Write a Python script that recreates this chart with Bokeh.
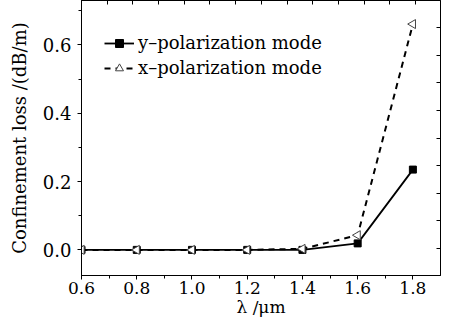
from bokeh.plotting import figure
from bokeh.models import (Range1d, LinearAxis, SingleIntervalTicker, Legend, LegendItem,
                          NumeralTickFormatter)
from bokeh.embed import file_html
from bokeh.resources import INLINE
import math

wavelength = [0.6, 0.8, 1.0, 1.2, 1.4, 1.6, 1.8]
loss_y_pol = [0.0, 0.0, 0.0, 0.0, 0.0, 0.019, 0.235]
loss_x_pol = [0.0, 0.0, 0.0, 0.0, 0.003, 0.043, 0.661]
label_y_pol = "y–polarization mode"
label_x_pol = "x–polarization mode"
x_label = "λ /μm"
y_label = "Confinement loss /(dB/m)"

FONT = "DejaVu Serif"

p = figure(width=441, height=319, x_range=Range1d(0.5999, 1.9), y_range=Range1d(-0.075, 0.73),
           output_backend="svg", toolbar_location=None,
           min_border_left=81, min_border_right=1, min_border_top=0, min_border_bottom=40)
p.xgrid.visible = False
p.ygrid.visible = False
p.outline_line_color = "black"
p.background_fill_color = "white"
p.border_fill_color = "white"

p.extra_x_ranges = {"top_r": Range1d(0, 13.97)}
p.extra_y_ranges = {"right_r": Range1d(-0.98, 8.98)}

# main axes
xa = p.xaxis[0]
xa.ticker = SingleIntervalTicker(interval=0.2, num_minor_ticks=2)
xa.formatter = NumeralTickFormatter(format="0.0")
ya = p.yaxis[0]
ya.ticker = SingleIntervalTicker(interval=0.2, num_minor_ticks=2)
ya.formatter = NumeralTickFormatter(format="0.0")
for ax in (xa, ya):
    ax.axis_line_color = "black"
    ax.major_tick_line_color = "black"
    ax.minor_tick_line_color = "black"
    ax.major_tick_in = 0
    ax.major_tick_out = 4
    ax.minor_tick_in = 0
    ax.minor_tick_out = 3
    ax.major_label_text_font = FONT
    ax.major_label_text_color = "black"
    ax.axis_label_text_font = FONT
    ax.axis_label_text_font_style = "normal"
    ax.axis_label_text_color = "black"
ya.major_label_text_font_size = "18px"
ya.axis_label_text_font_size = "18px"
xa.major_label_text_font_size = "17px"
xa.axis_label_text_font_size = "17px"
xa.major_label_standoff = 2
xa.axis_label = x_label
xa.axis_label_standoff = 0
ya.major_label_standoff = 6
ya.axis_label = y_label
ya.axis_label_standoff = 10

# mirror axes with inward ticks, no labels
for name, loc in (("top", "above"), ("right", "right")):
    kw = {"x_range_name": "top_r"} if name == "top" else {"y_range_name": "right_r"}
    ax = LinearAxis(ticker=SingleIntervalTicker(interval=1, num_minor_ticks=0),
                    major_tick_in=4, major_tick_out=0, minor_tick_in=0, minor_tick_out=0,
                    major_label_text_color=None, major_label_text_font_size="1px",
                    major_label_standoff=0,
                    axis_line_color="black", major_tick_line_color="black", **kw)
    p.add_layout(ax, loc)

lx = p.line(wavelength, loss_x_pol, line_color="black", line_width=2, line_dash="6 5")
ly = p.line(wavelength, loss_y_pol, line_color="black", line_width=1.8)
sq = p.scatter(wavelength, loss_y_pol, marker="square", size=7, fill_color="black", line_color="black")
tr = p.scatter(wavelength, loss_x_pol, marker="triangle", size=9, angle=math.pi / 2,
               fill_color="white", line_color="#444444", line_width=1)

legend = Legend(items=[LegendItem(label=label_y_pol, renderers=[ly, sq]),
                       LegendItem(label=label_x_pol, renderers=[lx, tr])],
                location=(23, 197), orientation="vertical",
                label_text_font=FONT, label_text_font_size="18px", label_text_color="black",
                glyph_width=30, glyph_height=20, label_height=20, label_standoff=4, spacing=4,
                padding=0, margin=0, border_line_alpha=0, background_fill_alpha=0)
p.add_layout(legend, "center")

open("out.html", "w").write(file_html(p, INLINE))
